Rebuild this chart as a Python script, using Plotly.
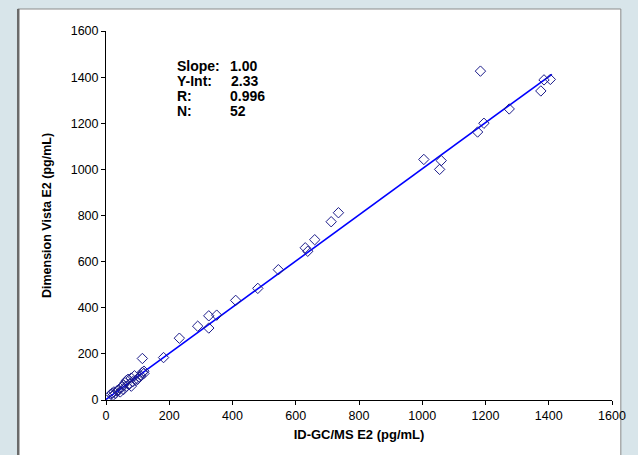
import plotly.graph_objects as go

# Method comparison: ID-GC/MS reference vs Dimension Vista E2 (pg/mL)
ref_gcms = [
    15, 20, 25, 22, 30, 35, 40, 45, 50, 55, 55, 60, 65, 70, 75, 80, 85, 90, 95,
    100, 105, 110, 115, 120, 120, 65, 80,
    115, 182, 232, 290, 325, 325, 350, 410, 480, 545, 630, 638, 660, 712, 735,
    1005, 1055, 1060, 1175, 1184, 1195, 1275, 1375, 1385, 1405,
]
vista = [
    25, 30, 35, 20, 28, 40, 45, 35, 55, 65, 45, 75, 60, 90, 70, 95, 80, 105, 85,
    90, 100, 105, 120, 115, 125, 85, 60,
    180, 184, 268, 320, 365, 312, 368, 432, 484, 565, 660, 645, 695, 773, 812,
    1043, 1000, 1038, 1162, 1426, 1200, 1262, 1340, 1388, 1390,
]

slope = 1.00
y_int = 2.33
r_value = 0.996
n_points = 52
fit_x = [0, 1410]

x_ticks = [0, 200, 400, 600, 800, 1000, 1200, 1400, 1600]
y_ticks = [0, 200, 400, 600, 800, 1000, 1200, 1400, 1600]

W, H = 638, 455
L, R, T, B = 106, 16, 31, 55
PW, PH = W - L - R, H - T - B


def px(x):
    return (x - L) / PW


def py(y):
    return (H - B - y) / PH


fig = go.Figure()

fig.add_trace(go.Scatter(
    x=fit_x, y=[slope * v + y_int for v in fit_x],
    mode="lines", line=dict(color="#0000ff", width=1.6),
    hoverinfo="skip", showlegend=False,
))
fig.add_trace(go.Scatter(
    x=ref_gcms, y=vista, mode="markers",
    marker=dict(symbol="diamond-open", size=8, color="#1c1c8a",
                line=dict(width=1, color="#1c1c8a")),
    showlegend=False,
))

font = dict(family="Liberation Sans, Arial, sans-serif", color="black")

fig.update_layout(
    width=W, height=H,
    margin=dict(l=L, r=R, t=T, b=B),
    paper_bgcolor="#d8e5ea",
    plot_bgcolor="rgba(0,0,0,0)",
    font=dict(size=12, **font),
    xaxis=dict(range=[0, 1600], tickvals=x_ticks, showgrid=False, zeroline=False,
               showline=True, linecolor="black", linewidth=1,
               ticks="outside", ticklen=4, tickcolor="black",
               tickfont=dict(size=12.5, **font),
               title=dict(text="<b>ID-GC/MS E2 (pg/mL)</b>", standoff=7,
                          font=dict(size=13, **font))),
    yaxis=dict(range=[0, 1600], tickvals=y_ticks, showgrid=False, zeroline=False,
               showline=True, linecolor="black", linewidth=1,
               ticks="outside", ticklen=4, tickcolor="black",
               tickfont=dict(size=12.5, **font),
               title=dict(text="<b>Dimension Vista E2 (pg/mL)</b>", standoff=16,
                          font=dict(size=12.5, **font))),
    shapes=[
        dict(type="rect", xref="paper", yref="paper", layer="below",
             x0=px(16), x1=px(631), y0=py(462), y1=py(9),
             fillcolor="white", line=dict(color="#8a8a8a", width=1)),
        dict(type="line", xref="paper", yref="paper", layer="below",
             x0=px(16.5), x1=px(16.5), y0=py(462), y1=py(9),
             line=dict(color="#6a6a6a", width=2.5)),
    ],
)

stats = [
    ("Slope:", f"{slope:.2f}", 66, 230),
    ("Y-Int:", f"{y_int:.2f}", 81, 231),
    ("R:", f"{r_value:.3f}", 96, 230),
    ("N:", f"{n_points}", 111, 230),
]
for label, val, ypix, vx in stats:
    fig.add_annotation(xref="paper", yref="paper", x=px(176), y=py(ypix),
                       xanchor="left", yanchor="middle", showarrow=False,
                       text=f"<b>{label}</b>", font=dict(size=14, **font))
    fig.add_annotation(xref="paper", yref="paper", x=px(vx), y=py(ypix),
                       xanchor="left", yanchor="middle", showarrow=False,
                       text=f"<b>{val}</b>", font=dict(size=14, **font))

fig.write_html("out.html")
